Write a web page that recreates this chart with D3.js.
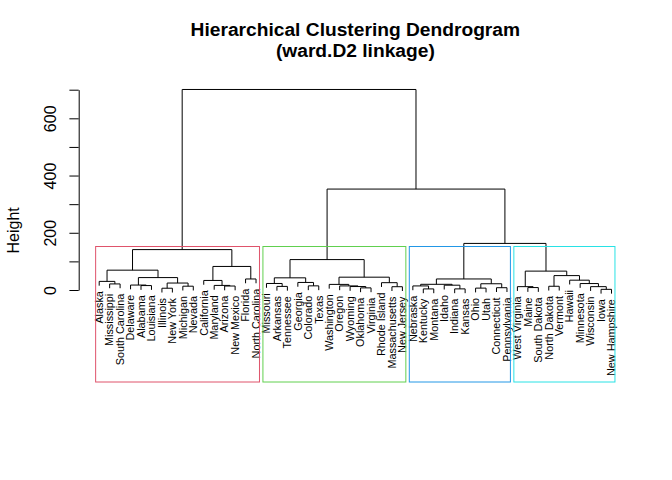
<!DOCTYPE html>
<html><head><meta charset="utf-8">
<script src="https://cdnjs.cloudflare.com/ajax/libs/d3/7.8.5/d3.min.js"></script>
<style>
body{margin:0;background:#fff}
svg{display:block}
text{font-family:"Liberation Sans", Arial, Helvetica, sans-serif; fill:#000}
</style>
</head><body>
<script>
// Leaf labels in dendrogram order (left to right)
const leafLabels = [
  "Alaska","Mississippi","South Carolina","Delaware","Alabama","Louisiana","Illinois","New York",
  "Michigan","Nevada","California","Maryland","Arizona","New Mexico","Florida","North Carolina",
  "Missouri","Arkansas","Tennessee","Georgia","Colorado","Texas","Washington","Oregon","Wyoming",
  "Oklahoma","Virginia","Rhode Island","Massachusetts","New Jersey",
  "Nebraska","Kentucky","Montana","Idaho","Indiana","Kansas","Ohio","Utah","Connecticut","Pennsylvania",
  "West Virginia","Maine","South Dakota","North Dakota","Vermont","Hawaii","Minnesota","Wisconsin","Iowa","New Hampshire"
];
// Merges: negative = leaf (1-based position in leafLabels), positive = earlier merge row (1-based)
const mergeLeft   = [-2, -1, -5, -4, -7, -9, 5, 4, 2, -13, -12, -11, -15, 12, 9,
                     -18, -17, -21, -20, 17, -26, -25, -24, -23, -29, -28, 24, 20,
                     -32, -31, -35, -34, 30, -37, -39, 34, 33,
                     -42, -41, -44, -49, -48, -47, -46, 40, 39, 37, 28, 15];
const mergeRight  = [-3, 1, -6, 3, -8, -10, 6, 7, 8, -14, 10, 11, -16, 13, 14,
                     -19, 16, -22, 18, 19, -27, 21, 22, 23, -30, 25, 26, 27,
                     -33, 29, -36, 31, 32, -38, -40, 35, 36,
                     -43, 38, -45, -50, 41, 42, 43, 44, 45, 46, 47, 48];
const mergeHeight = [21.2, 30.1, 15.5, 17.3, 6.2, 13.3, 24.3, 43.4, 69.3, 13.9, 16.0, 33.4, 38.5, 82.3, 141.2,
                     12.6, 22.8, 14.5, 26.4, 42.5, 7.4, 12.1, 14.3, 19.6, 11.5, 25.6, 44.8, 106.3,
                     3.8, 14.2, 3.9, 16.8, 19.9, 6.6, 8.0, 21.8, 38.6,
                     8.5, 11.7, 13.1, 2.3, 11.7, 22.5, 34.3, 50.3, 66.0, 162.8, 352.7, 700.8];
const clusterSizes  = [16, 14, 10, 10];
const clusterColors = ["#DF536B", "#61D04F", "#2297E6", "#28E2E5"];
const yTicks      = [0, 100, 200, 300, 400, 500, 600, 700];
const yTickLabels = ["0", "", "200", "", "400", "", "600", ""];
const titleLines  = ["Hierarchical Clustering Dendrogram", "(ward.D2 linkage)"];
const yAxisLabel  = "Height";

const W = 672, H = 480;
const plot = {left: 78.7, right: 632, top: 78.7, bottom: 382};
const n = leafLabels.length;
const hang = 15;

const svg = d3.select("body").append("svg").attr("width", W).attr("height", H);

const x = d3.scaleLinear()
  .domain([1 - 0.04 * (n - 1), n + 0.04 * (n - 1)])
  .range([plot.left, plot.right]);
const y = d3.scaleLinear().domain([0, 700]).range([290, 89.7]);

// compute node positions
const nodeX = [], nodeH = mergeHeight;
function childX(c) { return c < 0 ? x(-c) : nodeX[c - 1]; }
mergeLeft.forEach((a, i) => { nodeX[i] = (childX(a) + childX(mergeRight[i])) / 2; });

// leaf parent heights
const leafTop = new Array(n + 1);
mergeLeft.forEach((a, i) => {
  [a, mergeRight[i]].forEach(c => { if (c < 0) leafTop[-c] = mergeHeight[i]; });
});

function childY(c, h) { return c < 0 ? y(h - hang) : y(nodeH[c - 1]); }

const g = svg.append("g");
g.selectAll("path.link").data(mergeLeft.map((a, i) => i)).enter().append("path")
  .attr("class", "link")
  .attr("fill", "none").attr("stroke", "#000").attr("stroke-width", 1)
  .attr("d", i => {
    const a = mergeLeft[i], b = mergeRight[i], h = mergeHeight[i];
    return `M${childX(a)},${childY(a, h)}V${y(h)}H${childX(b)}V${childY(b, h)}`;
  });

// leaf labels
g.selectAll("text.leaf").data(leafLabels).enter().append("text")
  .attr("class", "leaf")
  .attr("font-size", 10.8)
  .attr("text-anchor", "end")
  .attr("dy", "0.35em")
  .attr("transform", (d, i) => `translate(${x(i + 1)},${y(leafTop[i + 1] - hang) + 5.5}) rotate(-90)`)
  .text(d => d);

// cluster rectangles
const sortedH = mergeHeight.slice().sort((a, b) => b - a);
const k = clusterSizes.length;
const rectTop = y((sortedH[k - 2] + sortedH[k - 1]) / 2);
let cum = 0;
clusterSizes.forEach((s, j) => {
  svg.append("rect")
    .attr("x", x(cum + 0.66)).attr("y", rectTop)
    .attr("width", x(cum + s + 0.33) - x(cum + 0.66))
    .attr("height", plot.bottom - rectTop)
    .attr("fill", "none").attr("stroke", clusterColors[j]).attr("stroke-width", 1);
  cum += s;
});

// y axis
const axis = d3.axisLeft(y).tickValues(yTicks).tickSize(9.3).tickSizeOuter(0)
  .tickFormat((d, i) => yTickLabels[i]);
const ag = svg.append("g").attr("transform", `translate(${plot.left},0)`).call(axis);
ag.select(".domain").attr("stroke", "#000");
ag.selectAll(".tick line").attr("stroke", "#000");
ag.selectAll(".tick text")
  .attr("font-size", 16).attr("font-family", "Liberation Sans, Arial, sans-serif")
  .attr("fill", "#000")
  .attr("text-anchor", "middle")
  .attr("x", 0).attr("dy", 0)
  .attr("y", -(plot.left - 56))
  .attr("transform", "rotate(-90)");

// y label
svg.append("text")
  .attr("font-size", 16).attr("text-anchor", "middle")
  .attr("transform", `translate(19,${(plot.top + plot.bottom) / 2}) rotate(-90)`)
  .text(yAxisLabel);

// title
titleLines.forEach((t, i) => {
  svg.append("text")
    .attr("x", (plot.left + plot.right) / 2).attr("y", 36 + i * 21)
    .attr("text-anchor", "middle").attr("font-weight", "bold").attr("font-size", 19.2)
    .text(t);
});
</script>
</body></html>
